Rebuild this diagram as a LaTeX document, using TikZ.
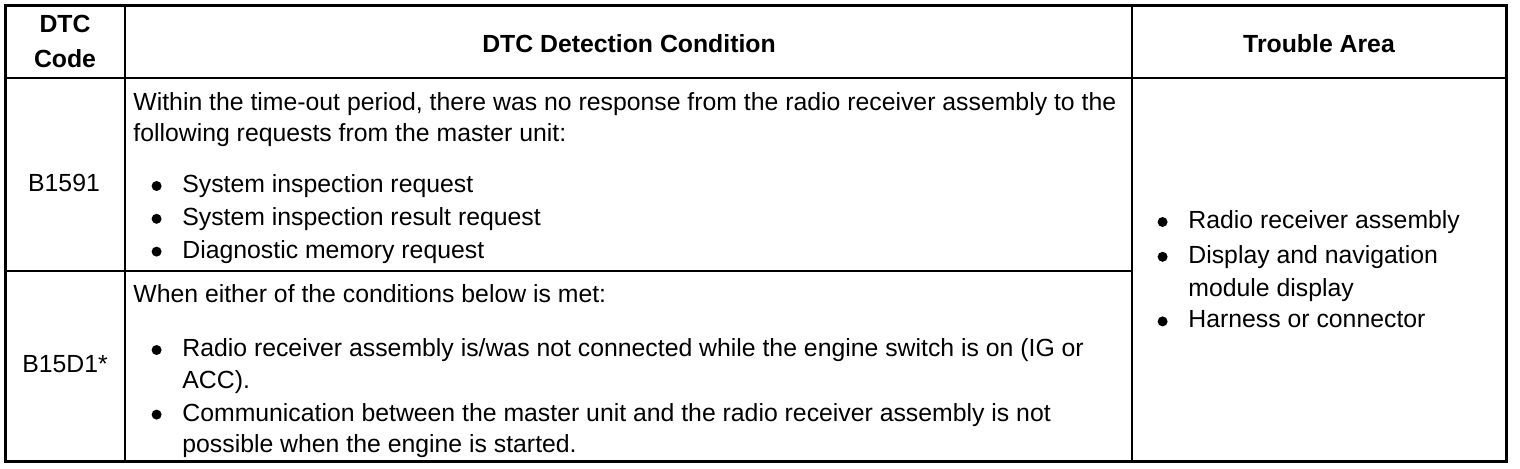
\documentclass[tikz,border=0pt]{standalone}
\usepackage{fontspec}
\setmainfont{Liberation Sans}
\usetikzlibrary{positioning}

\begin{document}
\begin{tikzpicture}
  [x=0.5pt,y=-0.5pt,
   txt/.style={inner sep=0pt,anchor=west,font=\fontsize{12.4}{15}\selectfont,text height=9pt,text depth=2.5pt},
   head/.style={inner sep=0pt,font=\fontsize{12.4}{17.5}\selectfont\bfseries,align=center},
   dot/.style={circle,fill=black,inner sep=0pt,minimum size=5pt},
   frame/.style={line width=1.5pt},
   rule/.style={line width=1pt},
  ]
  \useasboundingbox (0,0) rectangle (1520,468);
  % table grid
  \coordinate (tl) at (5,5);
  \coordinate (br) at (1506,461);
  \coordinate (h1) at (5,78);
  \coordinate (h2) at (1506,78);
  \coordinate (v1t) at (125,5);
  \coordinate (v1b) at (125,461);
  \coordinate (v2t) at (1132,5);
  \coordinate (v2b) at (1132,461);
  \coordinate (r1) at (5,271);
  \coordinate (r2) at (1132,271);
  \draw[rule] (h1) -- (h2);
  \draw[rule] (v1t) -- (v1b);
  \draw[rule] (v2t) -- (v2b);
  \draw[rule] (r1) -- (r2);
  \draw[frame] (tl) rectangle (br);

  % header
  \node[head] (hcode) at (65,41) {DTC\\Code};
  \node[head] (hcond) at (629,44) {DTC Detection Condition};
  \node[head] (harea) at (1319,44) {Trouble Area};

  % codes
  \node[txt,anchor=center] (b1591) at (64,185) {B1591};
  \node[txt,anchor=center] (b15d1) at (65,366) {B15D1*};

  % B1591 condition
  \node[txt] (c1) at (133,104) {Within the time-out period, there was no response from the radio receiver assembly to the};
  \node[txt,below=3.5pt of c1.south west,anchor=north west] (c2) {following requests from the master unit:};
  \node[txt] (s1) at (182,186) {System inspection request};
  \node[txt,below=4.5pt of s1.south west,anchor=north west] (s2) {System inspection result request};
  \node[txt,below=4.5pt of s2.south west,anchor=north west] (s3) {Diagnostic memory request};
  \node[dot,left=10pt of s1] (ds1) {};
  \node[dot,left=10pt of s2] (ds2) {};
  \node[dot,left=10pt of s3] (ds3) {};

  % B15D1 condition
  \node[txt] (w1) at (133,296) {When either of the conditions below is met:};
  \node[txt] (m1) at (182,350) {Radio receiver assembly is/was not connected while the engine switch is on (IG or};
  \node[txt,below=4pt of m1.south west,anchor=north west] (m2) {ACC).};
  \node[txt,below=4.5pt of m2.south west,anchor=north west] (m3) {Communication between the master unit and the radio receiver assembly is not};
  \node[txt,below=4pt of m3.south west,anchor=north west] (m4) {possible when the engine is started.};
  \node[dot,left=10pt of m1] (dm1) {};
  \node[dot,left=10pt of m3] (dm3) {};

  % trouble area
  \node[txt] (t1) at (1188,222) {Radio receiver assembly};
  \node[txt,below=5.5pt of t1.south west,anchor=north west] (t2) {Display and navigation};
  \node[txt,below=4.5pt of t2.south west,anchor=north west] (t3) {module display};
  \node[txt,below=4pt of t3.south west,anchor=north west] (t4) {Harness or connector};
  \node[dot,left=10pt of t1] (dt1) {};
  \node[dot,left=10pt of t2] (dt2) {};
  \node[dot,left=10pt of t4] (dt4) {};
\end{tikzpicture}
\end{document}
